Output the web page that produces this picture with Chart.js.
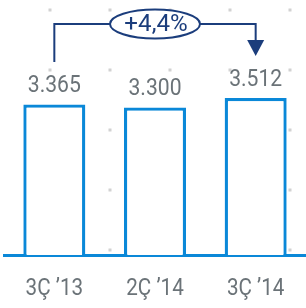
<!DOCTYPE html>
<html>
<head>
<meta charset="utf-8">
<script src="https://cdn.jsdelivr.net/npm/chart.js@4.4.1/dist/chart.umd.min.js"></script>
<style>
  html, body { margin: 0; padding: 0; background: #fff; }
  #chart { display: block; }
</style>
</head>
<body>
<canvas id="chart" width="306" height="308"></canvas>
<script>
// veriler
const categories  = ['3Ç ’13', '2Ç ’14', '3Ç ’14'];
const values      = [3365, 3300, 3512];
const valueLabels = ['3.365', '3.300', '3.512'];
const changeLabel = '+4,4%';

const BAR_BLUE = '#0a88d8';
const NAVY     = '#1b3d7c';
const GREY_TXT = '#6b7378';

// dar (condensed) yazı çiz
function drawNarrowText(ctx, text, x, y, font, color, squeeze) {
  ctx.save();
  ctx.translate(x, y);
  ctx.scale(squeeze, 1);
  ctx.font = font;
  ctx.fillStyle = color;
  ctx.textAlign = 'center';
  ctx.textBaseline = 'middle';
  ctx.fillText(text, 0, 0);
  ctx.restore();
}

// arka plandaki gri nokta ızgarası
const dotGrid = {
  id: 'dotGrid',
  beforeDatasetsDraw(chart) {
    const ctx = chart.ctx;
    ctx.save();
    ctx.fillStyle = '#d2d2d2';
    for (let i = 0; i < 5; i++) {
      for (let j = 0; j < 5; j++) {
        ctx.fillRect(48.5 + i * 60, 8.5 + j * 60, 3, 3);
      }
    }
    ctx.restore();
  }
};

// değer etiketleri + x etiketleri + ok
const labelsAndArrow = {
  id: 'labelsAndArrow',
  afterDatasetsDraw(chart) {
    const ctx  = chart.ctx;
    const bars = chart.getDatasetMeta(0).data;
    const xs   = chart.scales.x;

    bars.forEach((bar, i) => {
      drawNarrowText(ctx, valueLabels[i], bar.x, bar.y - 18, '24px Roboto', GREY_TXT, 0.88);
    });
    categories.forEach((c, i) => {
      drawNarrowText(ctx, c, xs.getPixelForTick(i), 289, '24px Roboto', GREY_TXT, 0.86);
    });

    // +4,4% oku
    const x0 = bars[0].x, x2 = bars[2].x;
    const mid = (x0 + x2) / 2;
    const lineY = 24, rx = 45, ry = 14.5;
    ctx.save();
    ctx.strokeStyle = NAVY;
    ctx.lineWidth = 2;
    ctx.beginPath();
    ctx.moveTo(x0, 62);
    ctx.lineTo(x0, lineY);
    ctx.lineTo(mid - rx, lineY);
    ctx.moveTo(mid + rx, lineY);
    ctx.lineTo(x2, lineY);
    ctx.lineTo(x2, 42);
    ctx.stroke();

    ctx.fillStyle = NAVY;
    ctx.beginPath();
    ctx.moveTo(x2 - 8.5, 40);
    ctx.lineTo(x2 + 8.5, 40);
    ctx.lineTo(x2, 56);
    ctx.closePath();
    ctx.fill();

    ctx.beginPath();
    ctx.ellipse(mid, lineY, rx, ry, 0, 0, Math.PI * 2);
    ctx.fillStyle = '#fff';
    ctx.fill();
    ctx.stroke();
    ctx.restore();

    drawNarrowText(ctx, changeLabel, mid + 1, lineY + 1, '23px Roboto', NAVY, 1.05);
  }
};

new Chart(document.getElementById('chart').getContext('2d'), {
  type: 'bar',
  data: {
    labels: categories,
    datasets: [{
      data: values,
      backgroundColor: '#ffffff',
      borderColor: BAR_BLUE,
      borderWidth: 3.3,
      borderSkipped: 'start',
      barPercentage: 0.616,
      categoryPercentage: 1
    }]
  },
  options: {
    responsive: false,
    animation: false,
    devicePixelRatio: 1,
    layout: { padding: { top: 9, left: 4, right: 0, bottom: 45 } },
    plugins: {
      legend: { display: false },
      tooltip: { enabled: false }
    },
    scales: {
      x: {
        grid: { display: false },
        border: { display: true, color: BAR_BLUE, width: 3 },
        ticks: { display: false }
      },
      y: {
        display: false,
        min: 0,
        max: 5500
      }
    }
  },
  plugins: [dotGrid, labelsAndArrow]
});
</script>
</body>
</html>
